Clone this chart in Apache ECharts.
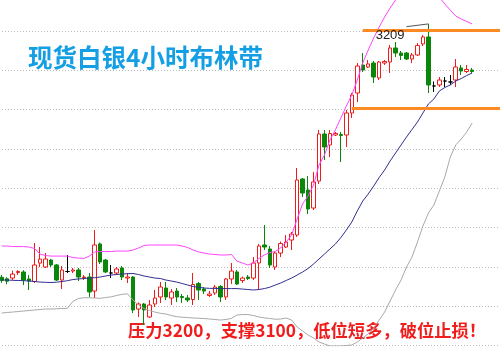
<!DOCTYPE html>
<html><head><meta charset="utf-8">
<script src="https://cdn.jsdelivr.net/npm/echarts@6/dist/echarts.min.js"></script>
<style>html,body{margin:0;padding:0;background:#fff}#c{width:500px;height:352px}</style>
</head><body><div id="c"></div><script>
// ---- data (4h silver candles: [open, close, low, high]) ----
const ohlc = [
[2887,2883,2880,2890],[2885,2882,2878,2887],[2886,2891,2883.5,2895.5],[2893,2894.3,2890,2896],[2893.7,2883.5,2877,2896],
[2884.8,2882.2,2870.8,2889.8],[2881.6,2902.6,2879.7,2930.5],[2905,2910,2900,2925.4],[2900,2910.2,2898.8,2917.8],[2908.9,2902.6,2900,2910.2],
[2902.6,2883.5,2882.2,2903.8],[2883.5,2896.2,2872,2901.3],[2894.3,2894.3,2892.4,2915.3],[2894.9,2896.2,2892.4,2898.8],[2896.2,2887.3,2882.2,2898.8],
[2886.7,2887.3,2883.5,2889.8],[2887.3,2868.3,2861.9,2892.4],[2869.5,2928,2860.6,2947],[2929.3,2906.4,2903.8,2931.2],[2908.9,2893.7,2892.4,2910.2],
[2892.4,2892.4,2886,2902.6],[2892.4,2897.5,2889.8,2900],[2898.8,2887.3,2883.5,2901.3],[2886,2887.3,2879.7,2892.4],[2887.3,2845.4,2841.5,2888.6],
[2846.6,2853,2836.5,2854.9],[2853,2845.4,2826.3,2854.3],[2836.5,2851.7,2835.2,2858.1],[2853,2860.6,2849.2,2870.8],[2861.9,2874.6,2854.3,2881],
[2873.3,2861.9,2858.1,2881],[2860.6,2868.3,2851.7,2872],[2869.5,2861.9,2855.5,2873.3],[2862.5,2861.2,2854.3,2865.7],[2860.6,2858.1,2855.5,2864.4],
[2858.7,2877.8,2851.7,2892.4],[2879,2870.8,2858.1,2881],[2872,2869.5,2865.7,2874.6],[2863.8,2865.7,2861.9,2869.5],[2867,2874.6,2864.4,2877.1],
[2875.2,2861.9,2855.5,2877.1],[2861.9,2884.8,2858.1,2886],[2884.8,2894.9,2878.4,2905.1],[2893.7,2878.4,2877.1,2896.2],[2882.9,2886,2879.7,2887.9],
[2887.3,2885.4,2883.5,2889.8],[2886,2905.1,2883.5,2912.7],[2905.1,2926.7,2870.8,2929.3],[2928,2925.4,2921.6,2953.4],[2922.9,2902.6,2898.8,2926.7],
[2900,2917.8,2896.2,2919.7],[2917.8,2929.9,2912.7,2932.4],[2925.4,2931.8,2924.2,2940.7],[2934.3,2941.9,2921.6,2944.5],[2940.7,3010.6,2938.2,3025.9],
[3011.9,2994.1,2989,3013.1],[2997.9,2973.7,2967.4,3015.7],[2975,3008.1,2972.5,3020.8],[3009.3,3069.1,3005.5,3074.2],[3069.1,3052.6,3036,3074.2],
[3055.1,3069.7,3039.8,3074.2],[3067.8,3069.7,3066.5,3071.6],[3068.4,3067.2,3033.5,3071.6],[3067.8,3095.8,3052.6,3099.6],[3095.8,3118.6,3089.4,3121.2],
[3121.2,3155.5,3109.7,3159.3],[3156.8,3150.4,3147.9,3172],[3154.2,3158.1,3153,3163.1],[3159.3,3141.5,3133.9,3161.9],[3140.3,3160.6,3137.7,3161.9],
[3159.3,3161.2,3156.8,3163.1],[3160.6,3178.4,3146.6,3182.2],[3178.4,3172,3166.9,3186],[3172,3168.9,3163.1,3174.6],[3172,3164.4,3163.1,3173.3],
[3164.4,3169.5,3159.3,3172],[3169.5,3181.6,3168.2,3184.7],[3183.5,3192.4,3180.9,3194.9],[3192.4,3131.4,3121.2,3209],[3130.1,3130.1,3122.5,3135.8],
[3131.4,3137.7,3128.8,3141.5],[3136.4,3136.4,3128.8,3141.5],[3135.2,3135.2,3131.4,3144.1],[3137.7,3154.2,3128.8,3164.4],[3153,3149.2,3144.1,3156.8],
[3148.5,3151.1,3146.6,3156.8],[3150.4,3148.5,3146.6,3153]
];
const upperBand = [2926.7,2926.7,2926.0,2926.0,2926.0,2925.4,2923.5,2916.5,2914.6,2913.9,
2913.9,2913.9,2913.9,2912.0,2911.4,2910.8,2913.9,2919.1,2919.7,2919.7,
2919.7,2920.3,2920.3,2920.3,2921.6,2924.2,2927.3,2928.0,2928.0,2928.0,
2928.0,2928.0,2928.0,2926.7,2924.8,2921.6,2919.1,2917.8,2916.5,2915.9,
2915.3,2915.3,2915.9,2907.6,2905.1,2902.6,2905.1,2910.8,2915.3,2918.4,
2919.7,2924.2,2931.8,2940.7,2961.0,2980.1,2990.3,3004.2,3029.7,3042.4,
3061.4,3074.2,3089.4,3104.7,3118.6,3137.7,3159.3,3175.8,3191.1,3205.1,
3217.8,3229.2,3239.4,3248.3,3254.7,3258.5,3261.0,3261.0,3257.2,3252.1,
3243.2,3234.3,3226.7,3219.1,3215.2,3212.1,3208.9];
const middleBand = [2883.5,2883.5,2883.1,2882.9,2882.6,2882.2,2881.6,2880.9,2880.6,2880.3,
2880.7,2881.6,2882.6,2884.1,2884.8,2885.4,2886.0,2886.4,2887.3,2888.6,
2889.8,2890.5,2891.1,2891.5,2891.8,2890.5,2888.6,2887.3,2886.0,2885.4,
2883.5,2882.2,2880.9,2879.0,2877.1,2875.2,2874.2,2873.3,2872.9,2872.8,
2872.6,2872.6,2872.6,2872.6,2872.0,2871.4,2870.8,2871.4,2872.6,2874.3,
2877.1,2879.7,2882.9,2886.0,2889.8,2893.7,2898.1,2903.8,2910.2,2916.5,
2922.9,2929.3,2937.5,2947.0,2957.2,2971.2,2983.9,2992.8,3003.0,3013.8,
3023.3,3034.8,3044.9,3055.1,3065.2,3074.8,3084.3,3095.8,3107.2,3113.6,
3123.7,3128.2,3131.4,3136.4,3139.6,3143.4,3146.6];
const lowerBand = [2841.5,2842.2,2842.8,2843.4,2844.1,2844.7,2845.4,2846.0,2846.6,2846.6,
2846.9,2847.3,2847.5,2856.2,2860.0,2861.0,2860.9,2860.6,2860.2,2861.2,
2862.1,2863.8,2865.3,2865.9,2858.1,2851.7,2847.3,2844.7,2842.8,2841.2,
2840.3,2838.4,2836.9,2836.2,2835.8,2835.2,2834.9,2834.6,2833.9,2833.3,
2832.6,2833.3,2834.8,2839.0,2839.6,2839.6,2838.4,2836.5,2835.4,2834.6,
2833.6,2833.9,2835.2,2832.6,2823.8,2818.7,2813.6,2809.8,2804.7,2802.2,
2799.6,2799.6,2799.6,2800.3,2800.9,2804.7,2809.8,2814.9,2822.5,2832.6,
2842.8,2856.8,2870.8,2883.5,2900.0,2912.7,2931.8,2952.1,2968.6,2978.8,
2996.6,3014.4,3039.8,3055.1,3062.7,3071.6,3083.0];
const categories = ohlc.map((d, i) => 'K' + (i + 1)).concat(['+1','+2','+3','+4','+5','+6']);
const resistance = 3201;      // 压力线
const support = 3101.5;       // 支撑线
const titleText = '现货白银4小时布林带';
const noteText = '压力3200，支撑3100，低位短多，破位止损！';

// ---- derived ----
let peakIdx = 0;
ohlc.forEach((d, i) => { if (d[3] > ohlc[peakIdx][3]) peakIdx = i; });
const peak = ohlc[peakIdx][3];
const lastIdx = categories.length - 1;

const chart = echarts.init(document.getElementById('c'), null, {renderer: 'canvas'});
const orange = {color: '#ff8a24', width: 3, type: 'solid'};
chart.setOption({
  animation: false,
  backgroundColor: '#fff',
  grid: {left: -1, right: -7.71, top: -8.34, bottom: 6.3, outerBoundsMode: 'none', containLabel: false},
  xAxis: {type: 'category', data: categories, boundaryGap: true, show: false},
  yAxis: {
    type: 'value', min: 2800, max: 3250, interval: 50,
    axisLabel: {show: false}, axisLine: {show: false}, axisTick: {show: false},
    splitLine: {show: true, lineStyle: {color: '#bcbcbc', type: [1, 2], width: 1}}
  },
  graphic: [
    {type: 'text', x: 28, y: 57.5, style: {text: titleText, fill: '#149fe4',
      font: 'bold 24.5px "Noto Sans CJK SC"', verticalAlign: 'middle'}},
    {type: 'text', x: 128, y: 330, style: {text: noteText, fill: '#f01d1d',
      font: 'bold 17.3px "Noto Sans CJK SC"', verticalAlign: 'middle'}}
  ],
  series: [
    {type: 'line', data: upperBand, symbol: 'none', lineStyle: {color: '#ff44ff', width: 1}, silent: true},
    {type: 'line', data: middleBand, symbol: 'none', lineStyle: {color: '#2f2f92', width: 1}, silent: true},
    {type: 'line', data: lowerBand, symbol: 'none', lineStyle: {color: '#a8a8a8', width: 1}, silent: true},
    {
      type: 'candlestick', data: ohlc, barWidth: 4,
      itemStyle: {color: '#ffffff', color0: '#0a870a', borderColor: '#ee1c1c', borderColor0: '#0a870a',
        borderColorDoji: '#000000', borderWidth: 1},
      markLine: {
        silent: true, symbol: ['none', 'none'], label: {show: false}, animation: false,
        data: [
          [{coord: [65.5, resistance], lineStyle: orange}, {coord: [lastIdx - 0.4, resistance]}],
          [{coord: [64, support], lineStyle: orange}, {coord: [lastIdx - 0.4, support]}],
          [{coord: [74, peak - 3.5], lineStyle: {color: '#555', width: 1, type: 'solid'}}, {coord: [peakIdx, peak]}]
        ]
      },
      markPoint: {
        silent: true, symbol: 'rect', symbolSize: 1, itemStyle: {color: 'rgba(0,0,0,0)'},
        label: {show: true, position: 'inside', formatter: String(Math.round(peak)), color: '#222',
          fontSize: 13, fontFamily: 'Liberation Sans'},
        data: [{coord: [71.3, peak - 15]}]
      }
    }
  ]
});
</script></body></html>
